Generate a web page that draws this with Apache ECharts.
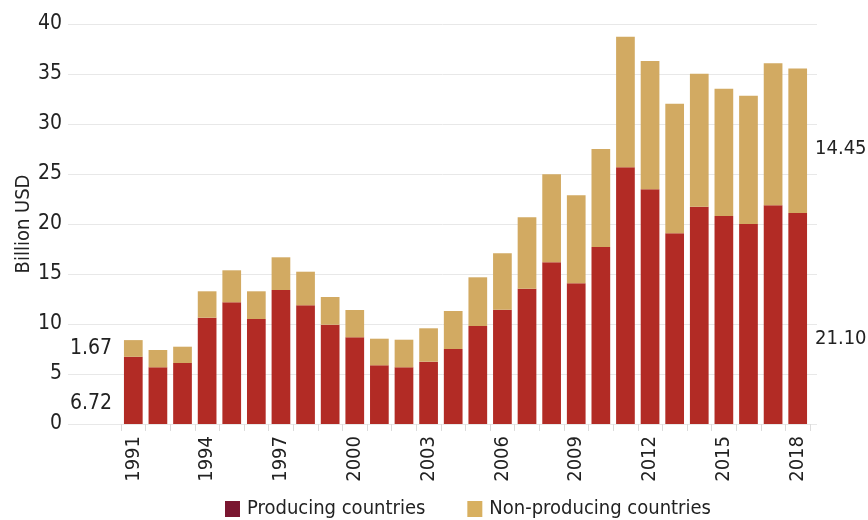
<!DOCTYPE html>
<html>
<head>
<meta charset="utf-8">
<script src="https://cdn.jsdelivr.net/npm/echarts@6/dist/echarts.min.js"></script>
<style>
html,body{margin:0;padding:0;background:#fff;}
#c{width:868px;height:520px;}
</style>
</head>
<body>
<div id="c"></div>
<script>
const years = ['1991','1992','1993','1994','1995','1996','1997','1998','1999','2000','2001','2002','2003','2004','2005','2006','2007','2008','2009','2010','2011','2012','2013','2014','2015','2016','2017','2018'];
const producing = [6.72,5.67,6.10,10.63,12.17,10.50,13.40,11.87,9.93,8.67,5.87,5.67,6.23,7.50,9.80,11.43,13.53,16.17,14.07,17.70,25.67,23.47,19.07,21.73,20.80,20.00,21.87,21.10];
const nonProducing = [1.67,1.73,1.63,2.64,3.20,2.77,3.27,3.36,2.77,2.73,2.66,2.76,3.34,3.80,4.87,5.64,7.14,8.80,8.80,9.80,13.06,12.83,12.96,13.30,12.73,12.83,14.20,14.45];
const yTicks = [0,5,10,15,20,25,30,35,40];
const seriesNames = ['Producing countries','Non-producing countries'];

const FONT = "'DejaVu Sans Condensed', 'DejaVu Sans', sans-serif";
const RED = '#b22b25', TAN = '#d2aa62';
const last = years.length - 1;

function annotate(arr, leftOff, rightOff) {
  return arr.map((v, i) => {
    if (i === 0) return {value: v, label: {show: true, position: 'left', distance: 12, offset: leftOff,
      formatter: p => p.value.toFixed(2), fontFamily: FONT, fontSize: 21, color: '#222'}};
    if (i === last) return {value: v, label: {show: true, position: 'right', distance: 8, offset: rightOff,
      formatter: p => p.value.toFixed(2), fontFamily: FONT, fontSize: 20, color: '#222'}};
    return v;
  });
}

const chart = echarts.init(document.getElementById('c'), null, {renderer: 'canvas'});
chart.setOption({
  animation: false,
  backgroundColor: '#fff',
  textStyle: {fontFamily: FONT},
  legend: {
    left: 220, top: 494,
    itemWidth: 15, itemHeight: 16, itemGap: 42,
    textStyle: {fontFamily: FONT, fontSize: 20, color: '#222', padding: [0, 0, 0, 2]},
    data: [
      {name: seriesNames[0], icon: 'rect', itemStyle: {color: '#7a1630'}},
      {name: seriesNames[1], icon: 'rect', itemStyle: {color: '#d8b060'}}
    ]
  },
  grid: [
    {left: 121, right: 58, top: 24, bottom: 96},
    {left: 68, right: 51, top: 24, bottom: 96}
  ],
  xAxis: [
    {
      type: 'category', gridIndex: 0, data: years,
      axisLine: {show: false},
      axisTick: {show: true, interval: 0, length: 7, lineStyle: {color: '#dcdcdc'}},
      axisLabel: {interval: 2, rotate: 90, margin: 12, fontFamily: FONT, fontSize: 20, color: '#222'}
    },
    {type: 'value', gridIndex: 1, min: 0, max: 1, show: false}
  ],
  yAxis: [
    {type: 'value', gridIndex: 0, min: 0, max: 40, interval: 5, show: false},
    {
      type: 'value', gridIndex: 1, min: yTicks[0], max: yTicks[yTicks.length - 1], interval: 5,
      name: 'Billion USD', nameLocation: 'middle', nameGap: 34, nameMoveOverlap: false,
      nameTextStyle: {fontFamily: FONT, fontSize: 20, color: '#222'},
      axisLine: {show: false}, axisTick: {show: false},
      axisLabel: {margin: 6, fontFamily: FONT, fontSize: 21, color: '#222'},
      splitLine: {lineStyle: {color: '#e8e8e8', width: 1}}
    }
  ],
  series: [
    {
      name: seriesNames[0], type: 'bar', stack: 'total', xAxisIndex: 0, yAxisIndex: 0,
      barCategoryGap: '24%', itemStyle: {color: RED},
      data: annotate(producing, [0, 13], [0, 20])
    },
    {
      name: seriesNames[1], type: 'bar', stack: 'total', xAxisIndex: 0, yAxisIndex: 0,
      barCategoryGap: '24%', itemStyle: {color: TAN},
      data: annotate(nonProducing, [0, 0], [0, 8])
    }
  ]
});
</script>
</body>
</html>
